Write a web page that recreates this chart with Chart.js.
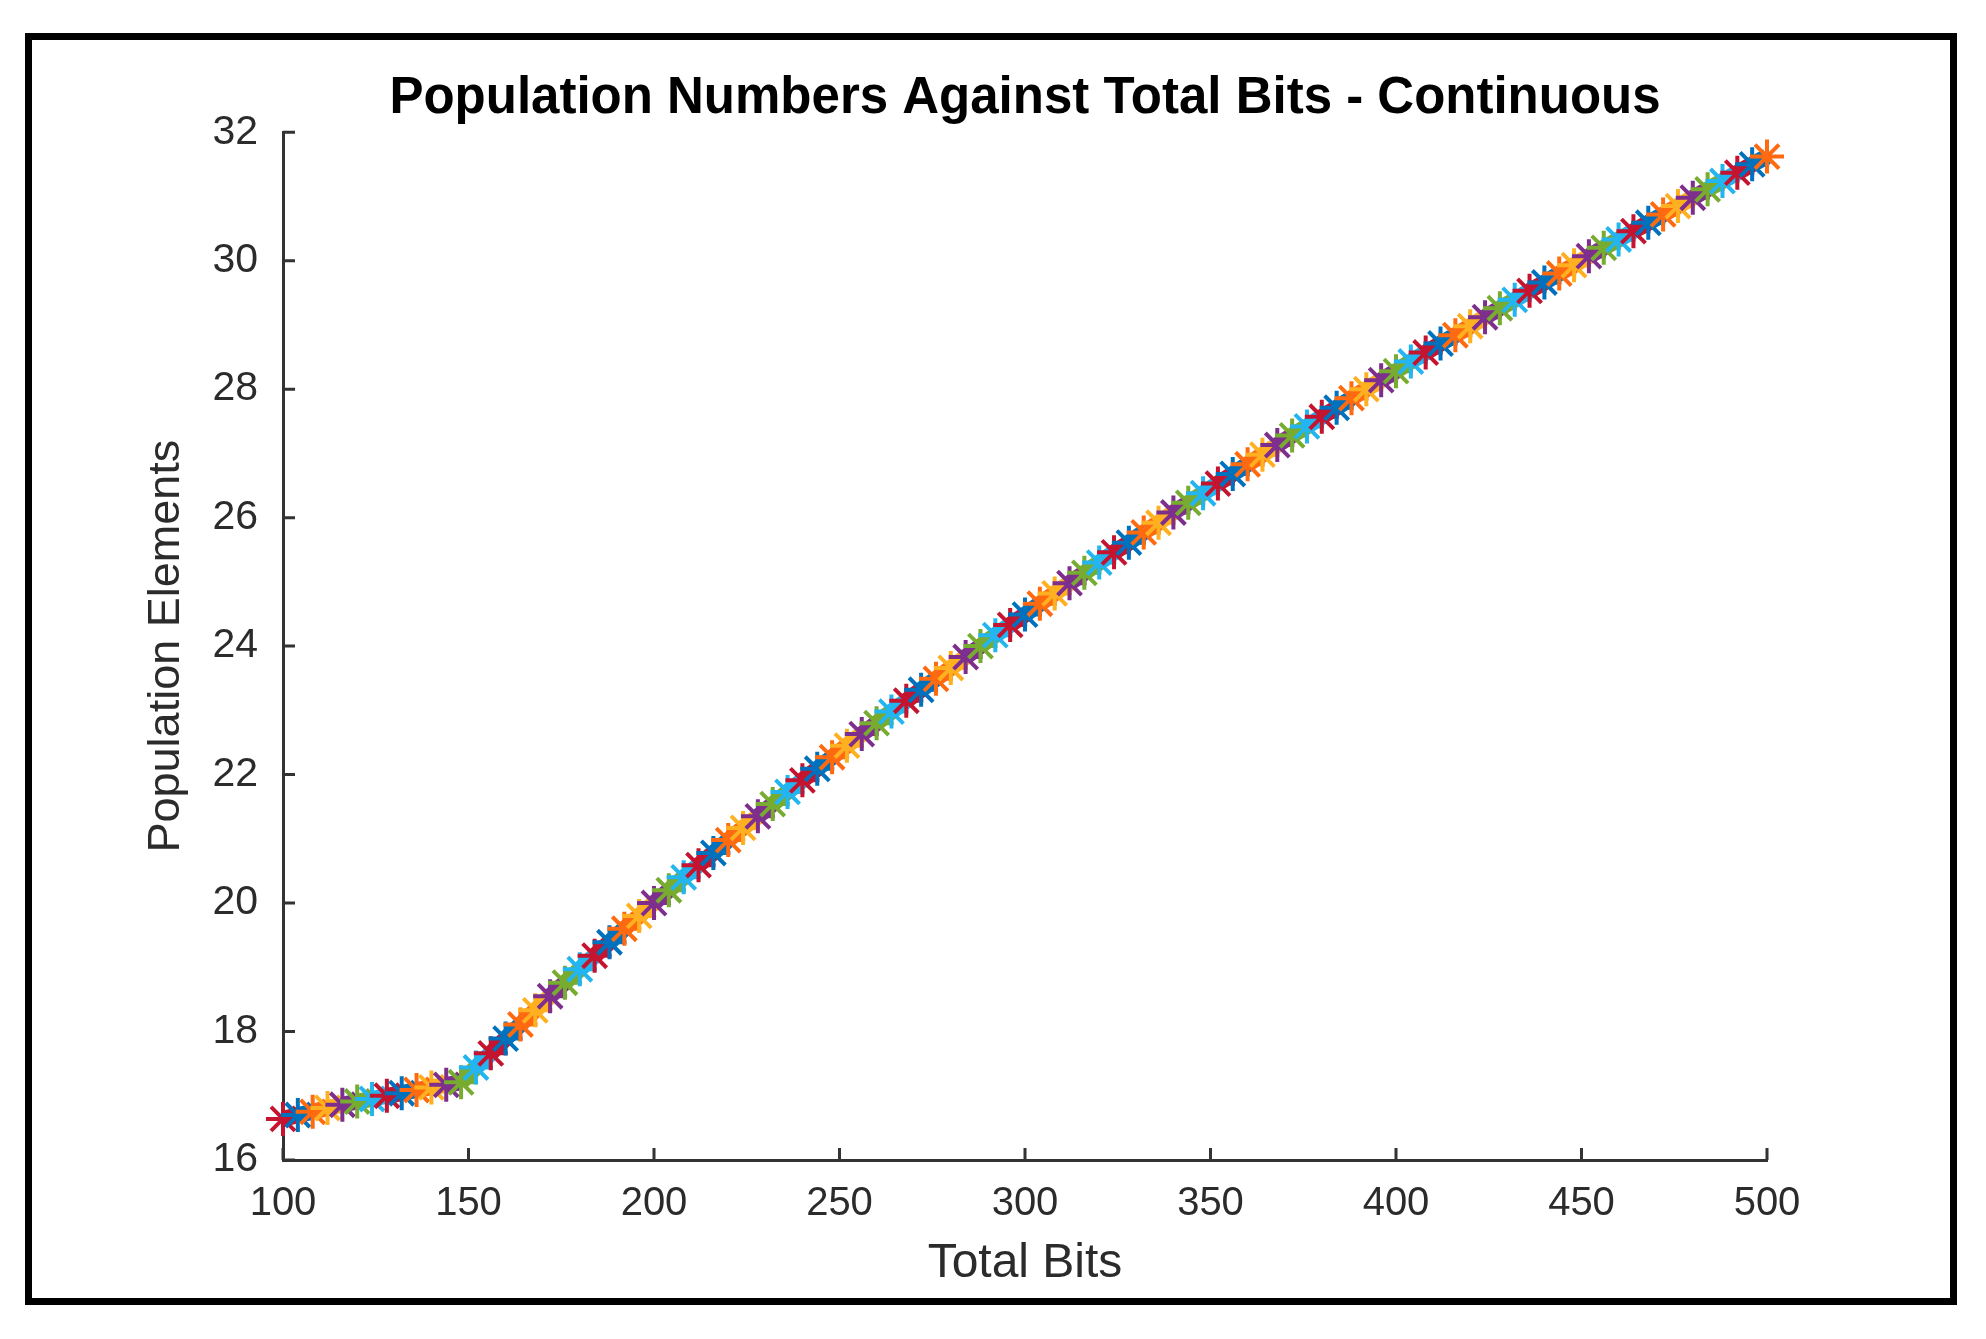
<!DOCTYPE html>
<html>
<head>
<meta charset="utf-8">
<title>Population Numbers Against Total Bits - Continuous</title>
<script src="https://cdn.jsdelivr.net/npm/chart.js@4.4.1/dist/chart.umd.min.js"></script>
<style>
    html, body { margin: 0; padding: 0; background: #fff; }
    #frame {
        position: absolute; left: 25px; top: 33px;
        width: 1932px; height: 1272px;
        border: 7px solid #000; box-sizing: border-box;
    }
    #wrap { position: absolute; left: 0; top: 0; width: 1986px; height: 1339px; }
</style>
</head>
<body>
<div id="frame"></div>
<div id="wrap"><canvas id="chart"></canvas></div>
<script>
// Data
const totalBits = [
    100, 104, 108, 112, 116, 120, 124, 128, 132, 136, 140, 144, 148,
    152, 156, 160, 164, 168, 172, 176, 180, 184, 188, 192, 196, 200,
    204, 208, 212, 216, 220, 224, 228, 232, 236, 240, 244, 248, 252,
    256, 260, 264, 268, 272, 276, 280, 284, 288, 292, 296, 300, 304,
    308, 312, 316, 320, 324, 328, 332, 336, 340, 344, 348, 352, 356,
    360, 364, 368, 372, 376, 380, 384, 388, 392, 396, 400, 404, 408,
    412, 416, 420, 424, 428, 432, 436, 440, 444, 448, 452, 456, 460,
    464, 468, 472, 476, 480, 484, 488, 492, 496, 500
];
const populationElements = [
    16.64, 16.70, 16.75, 16.81, 16.86, 16.91, 16.95, 17.00, 17.04, 17.09, 17.13, 17.17, 17.21,
    17.44, 17.66, 17.89, 18.11, 18.33, 18.55, 18.76, 18.97, 19.18, 19.39, 19.60, 19.80, 20.00,
    20.20, 20.40, 20.59, 20.78, 20.98, 21.17, 21.35, 21.54, 21.73, 21.91, 22.09, 22.27, 22.45,
    22.63, 22.80, 22.98, 23.15, 23.32, 23.49, 23.66, 23.83, 24.00, 24.17, 24.33, 24.49, 24.66,
    24.82, 24.98, 25.14, 25.30, 25.46, 25.61, 25.77, 25.92, 26.08, 26.23, 26.38, 26.53, 26.68,
    26.83, 26.98, 27.13, 27.28, 27.42, 27.57, 27.71, 27.86, 28.00, 28.14, 28.28, 28.43, 28.57,
    28.71, 28.84, 28.98, 29.12, 29.26, 29.39, 29.53, 29.66, 29.80, 29.93, 30.07, 30.20, 30.33,
    30.46, 30.59, 30.72, 30.85, 30.98, 31.11, 31.24, 31.37, 31.50, 31.62
];
const xTicks = [100, 150, 200, 250, 300, 350, 400, 450, 500];
const yTicks = [16, 18, 20, 22, 24, 26, 28, 30, 32];

const chartTitle = 'Population Numbers Against Total Bits - Continuous';
const xTitle = 'Total Bits';
const yTitle = 'Population Elements';

// MATLAB-like colour order, one colour per marker
const markerColors = ['#0072BD', '#FF6A10', '#FFB020', '#7E2F8E', '#77AC30', '#22B5F0', '#C4142F'];
const fontFamily = "'Liberation Sans', Arial, Helvetica, sans-serif";
const axisColor = '#333333';
const tickLen = 12;

// MATLAB draws tick marks on the inside of the axes
const inwardTicks = {
    id: 'inwardTicks',
    beforeDatasetsDraw(chart) {
        const {ctx, chartArea, scales: {x, y}} = chart;
        ctx.save();
        ctx.strokeStyle = axisColor;
        ctx.lineWidth = 3;
        ctx.beginPath();
        x.ticks.forEach(t => {
            const px = x.getPixelForValue(t.value);
            ctx.moveTo(px, chartArea.bottom);
            ctx.lineTo(px, chartArea.bottom - tickLen);
        });
        y.ticks.forEach(t => {
            const py = y.getPixelForValue(t.value);
            ctx.moveTo(chartArea.left, py);
            ctx.lineTo(chartArea.left + tickLen, py);
        });
        ctx.stroke();
        ctx.restore();
    }
};

// offset so the last marker comes out orange, as in the picture
const colorAt = i => markerColors[(i + 6) % markerColors.length];

new Chart(document.getElementById('chart'), {
    type: 'line',
    data: {
        datasets: [{
            data: totalBits.map((b, i) => ({x: b, y: populationElements[i]})),
            borderWidth: 16,
            segment: {
                borderColor: c => colorAt(c.p0DataIndex)
            },
            pointStyle: 'star',
            pointRadius: 17,
            pointBorderWidth: 4,
            pointBorderColor: c => colorAt(c.dataIndex),
            pointBackgroundColor: c => colorAt(c.dataIndex),
            tension: 0,
            clip: false
        }]
    },
    options: {
        responsive: true,
        maintainAspectRatio: false,
        animation: false,
        layout: {
            padding: {left: 0, right: 219, top: 0, bottom: 0}
        },
        plugins: {
            legend: {display: false},
            tooltip: {enabled: false},
            title: {
                display: true,
                text: chartTitle,
                fullSize: false,
                color: '#000',
                font: {family: fontFamily, size: 51, weight: 'bold'},
                padding: {top: 68, bottom: 3}
            }
        },
        scales: {
            x: {
                type: 'linear',
                min: 100,
                max: 500,
                grid: {display: false, drawTicks: false},
                border: {display: true, color: axisColor, width: 3},
                afterBuildTicks: s => { s.ticks = xTicks.map(v => ({value: v})); },
                afterFit: s => { s.height = 179; },
                ticks: {
                    padding: 20,
                    color: '#2b2b2b',
                    font: {family: fontFamily, size: 40}
                },
                title: {
                    display: true,
                    text: xTitle,
                    color: '#2b2b2b',
                    font: {family: fontFamily, size: 48},
                    padding: {top: 0, bottom: 46}
                }
            },
            y: {
                type: 'linear',
                min: 16,
                max: 32,
                grid: {display: false, drawTicks: false},
                border: {display: true, color: axisColor, width: 3},
                afterBuildTicks: s => { s.ticks = yTicks.map(v => ({value: v})); },
                afterFit: s => { s.width = 283; },
                ticks: {
                    padding: 25,
                    color: '#2b2b2b',
                    font: {family: fontFamily, size: 41}
                },
                title: {
                    display: true,
                    text: yTitle,
                    color: '#2b2b2b',
                    font: {family: fontFamily, size: 45},
                    padding: {top: 140, bottom: 0}
                }
            }
        }
    },
    plugins: [inwardTicks]
});
</script>
</body>
</html>
